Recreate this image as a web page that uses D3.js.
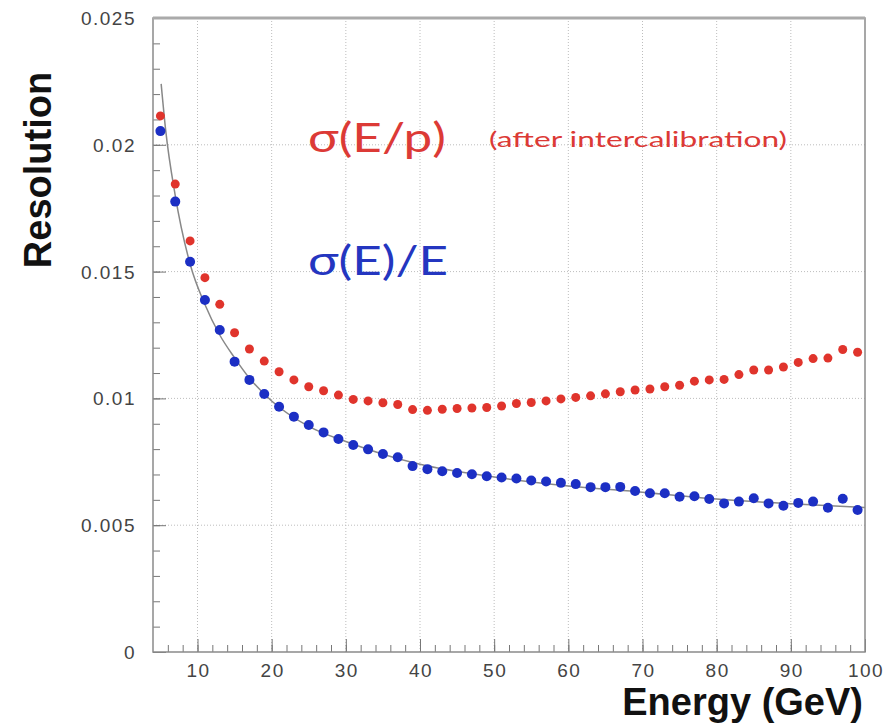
<!DOCTYPE html>
<html>
<head>
<meta charset="utf-8">
<script src="https://cdn.jsdelivr.net/npm/d3@7"></script>
<style>
  body { margin: 0; background: #fff; }
  svg { display: block; }
</style>
</head>
<body>
<div id="chart"></div>
<script>
var width = 894,
    height = 728;

// beam energy (GeV)
var energy = [5, 7, 9, 11, 13, 15, 17, 19, 21, 23, 25, 27, 29, 31, 33, 35, 37, 39, 41, 43, 45, 47, 49,
  51, 53, 55, 57, 59, 61, 63, 65, 67, 69, 71, 73, 75, 77, 79, 81, 83, 85, 87, 89, 91, 93, 95, 97, 99];

// sigma(E)/E  (blue)
var sigmaE = [0.02054, 0.01776, 0.01539, 0.01388, 0.0127, 0.01145, 0.01073, 0.01017, 0.00967, 0.00928,
  0.00895, 0.00866, 0.0084, 0.00816, 0.00799, 0.00781, 0.00768, 0.00733, 0.00721, 0.00713, 0.00706,
  0.00701, 0.00693, 0.00688, 0.00684, 0.00676, 0.00672, 0.00667, 0.00662, 0.0065, 0.0065, 0.00651,
  0.00635, 0.00626, 0.00626, 0.00612, 0.00614, 0.00603, 0.00586, 0.00593, 0.00606, 0.00586, 0.00577,
  0.00588, 0.00593, 0.00569, 0.00604, 0.0056];

// sigma(E/p) after intercalibration  (red)
var sigmaEp = [0.02114, 0.01845, 0.01621, 0.01476, 0.01371, 0.01259, 0.01195, 0.01147, 0.01105, 0.01073,
  0.01046, 0.0103, 0.01013, 0.00996, 0.0099, 0.00983, 0.00976, 0.00956, 0.00953, 0.00957, 0.0096,
  0.00962, 0.00964, 0.0097, 0.0098, 0.00984, 0.0099, 0.00998, 0.01004, 0.0101, 0.01018, 0.01026,
  0.01033, 0.01037, 0.01046, 0.01052, 0.01068, 0.01073, 0.01075, 0.01094, 0.01112, 0.01112, 0.01124,
  0.01142, 0.01157, 0.01159, 0.01193, 0.01182];

// fitted curve
var fitE   = [5.1, 5.7, 7, 9, 11, 13, 15, 17, 20, 25, 30, 35, 40, 50, 60, 70, 80, 90, 100];
var fitVal = [0.0224, 0.0206, 0.0180, 0.0153, 0.0137, 0.0125, 0.0116, 0.0108, 0.0099, 0.0089, 0.0083,
  0.0078, 0.0074, 0.0069, 0.00655, 0.0063, 0.00603, 0.00585, 0.0057];

var xTicks = [10, 20, 30, 40, 50, 60, 70, 80, 90, 100];
var yTicks = [0, 0.005, 0.01, 0.015, 0.02, 0.025];
var yTickLabels = ["0", "0.005", "0.01", "0.015", "0.02", "0.025"];

var x = d3.scaleLinear().domain([4, 100]).range([153, 865]);
var y = d3.scaleLinear().domain([0, 0.025]).range([652, 18]);

var svg = d3.select("#chart").append("svg")
  .attr("width", width)
  .attr("height", height);

// grid
var grid = svg.append("g").attr("stroke", "#bdbdbd").attr("stroke-width", 1)
  .attr("stroke-dasharray", "1,2");
grid.selectAll("line.vx")
  .data(xTicks.filter(function(d) { return d < 100; }))
  .enter().append("line")
  .attr("x1", function(d) { return x(d); }).attr("x2", function(d) { return x(d); })
  .attr("y1", y(0)).attr("y2", y(0.025));
grid.selectAll("line.hy")
  .data(yTicks.filter(function(d) { return d > 0 && d < 0.025; }))
  .enter().append("line")
  .attr("x1", x(4)).attr("x2", x(100))
  .attr("y1", function(d) { return y(d); }).attr("y2", function(d) { return y(d); });

// axes with inward ticks
var xAxis = d3.axisTop(x).tickValues(d3.range(6, 100, 2)).tickSize(7).tickFormat("");
var xMajor = d3.axisTop(x).tickValues(xTicks).tickSize(13).tickFormat("");
var yAxis = d3.axisRight(y).tickValues(d3.range(0.001, 0.025, 0.001)).tickSize(7).tickFormat("");
var yMajor = d3.axisRight(y).tickValues(yTicks).tickSize(13).tickFormat("");

[xAxis, xMajor].forEach(function(a) {
  svg.append("g").attr("transform", "translate(0," + y(0) + ")").call(a)
    .call(function(g) { g.select(".domain").remove(); g.selectAll("line").attr("stroke", "#777"); });
});
[yAxis, yMajor].forEach(function(a) {
  svg.append("g").attr("transform", "translate(" + x(4) + ",0)").call(a)
    .call(function(g) { g.select(".domain").remove(); g.selectAll("line").attr("stroke", "#777"); });
});

// frame
svg.append("rect")
  .attr("x", x(4)).attr("y", y(0.025))
  .attr("width", x(100) - x(4)).attr("height", y(0) - y(0.025))
  .attr("fill", "none").attr("stroke", "#8a8a8a").attr("stroke-width", 1.5);
svg.append("line")
  .attr("x1", x(4)).attr("x2", x(100)).attr("y1", y(0.025)).attr("y2", y(0.025))
  .attr("stroke", "#aaa").attr("stroke-width", 3);

// tick labels
svg.append("g").selectAll("text")
  .data(xTicks).enter().append("text")
  .attr("x", function(d) { return x(d) + 1; })
  .attr("y", 677)
  .attr("text-anchor", "middle")
  .style("font-family", "Liberation Sans, Arial, sans-serif")
  .style("font-size", "19px")
  .style("letter-spacing", "1.5px")
  .attr("fill", "#444")
  .text(function(d) { return d; });

svg.append("g").selectAll("text")
  .data(yTicks).enter().append("text")
  .attr("x", 136)
  .attr("y", function(d) { return y(d) + 7; })
  .attr("text-anchor", "end")
  .style("font-family", "Liberation Sans, Arial, sans-serif")
  .style("font-size", "19px")
  .style("letter-spacing", "1.5px")
  .attr("fill", "#444")
  .text(function(d, i) { return yTickLabels[i]; });

// axis titles
svg.append("text")
  .attr("transform", "translate(51,170) rotate(-90)")
  .attr("text-anchor", "middle")
  .style("font-family", "Liberation Sans, Arial, sans-serif")
  .style("font-weight", "bold")
  .style("font-size", "38px")
  .attr("fill", "#111")
  .text("Resolution");

svg.append("text")
  .attr("x", 863).attr("y", 715)
  .attr("text-anchor", "end")
  .style("font-family", "Liberation Sans, Arial, sans-serif")
  .style("font-weight", "bold")
  .style("font-size", "38px")
  .attr("fill", "#111")
  .text("Energy (GeV)");

// fit line
var line = d3.line()
  .x(function(d, i) { return x(fitE[i]); })
  .y(function(d) { return y(d); })
  .curve(d3.curveMonotoneX);
svg.append("path")
  .datum(fitVal)
  .attr("d", line)
  .attr("fill", "none")
  .attr("stroke", "#888")
  .attr("stroke-width", 1.5);

// points
svg.append("g").selectAll("circle")
  .data(sigmaEp).enter().append("circle")
  .attr("cx", function(d, i) { return x(energy[i]); })
  .attr("cy", function(d) { return y(d); })
  .attr("r", 4.5)
  .attr("fill", "#e0342c");

svg.append("g").selectAll("circle")
  .data(sigmaE).enter().append("circle")
  .attr("cx", function(d, i) { return x(energy[i]); })
  .attr("cy", function(d) { return y(d); })
  .attr("r", 5)
  .attr("fill", "#1c2fc4");

// annotations
svg.append("text")
  .attr("x", 308).attr("y", 152)
  .attr("textLength", 138).attr("lengthAdjust", "spacingAndGlyphs")
  .style("font-family", "Lato, sans-serif")
  .style("font-size", "40px")
  .attr("fill", "#dc3a36")
  .text("σ(E/p)");
svg.append("text")
  .attr("x", 489).attr("y", 147)
  .attr("textLength", 298).attr("lengthAdjust", "spacingAndGlyphs")
  .style("font-family", "Lato, sans-serif")
  .style("font-size", "22px")
  .attr("fill", "#dc3a36")
  .text("(after intercalibration)");
svg.append("text")
  .attr("x", 308).attr("y", 275)
  .attr("textLength", 140).attr("lengthAdjust", "spacingAndGlyphs")
  .style("font-family", "Lato, sans-serif")
  .style("font-size", "40px")
  .attr("fill", "#2436c0")
  .text("σ(E)/E");
</script>
</body>
</html>
